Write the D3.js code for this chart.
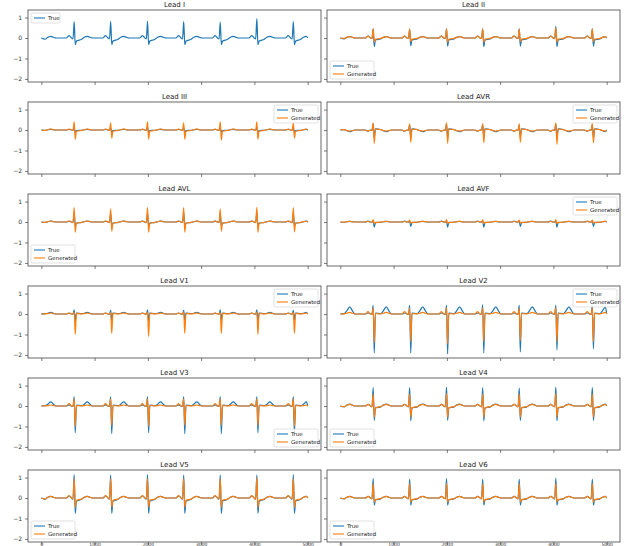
<!DOCTYPE html>
<html><head><meta charset="utf-8">
<script src="https://cdn.jsdelivr.net/npm/d3@7"></script>
<style>body{margin:0;background:#fff}svg{display:block;font-family:"DejaVu Sans",sans-serif}</style>
</head><body><svg id="c" width="624" height="546"></svg>
<script>
// ---- data ----
const leads = ["I","II","III","AVR","AVL","AVF","V1","V2","V3","V4","V5","V6"];
const legendPos = ["ul","ll","ur","ur","ll","ur","ur","ur","lr","ll","ll","ll"];
const beatSamples = [617,1302,1994,2673,3359,4046,4731];
const xTicks = [0,1000,2000,3000,4000,5000];
const yTicks = [1,0,-1,-2];
// per lead: R peak per beat
const trueR = [
 [0.80,0.82,0.82,0.80,0.78,0.95,0.80],
 [0.45,0.42,0.45,0.45,0.45,0.57,0.45],
 [0.12,0.10,0.12,0.12,0.10,0.12,0.10],
 [0.30,0.25,0.30,0.28,0.25,0.30,0.28],
 [0.45,0.42,0.45,0.45,0.42,0.48,0.45],
 [0.06,0.05,0.06,0.05,0.06,0.06,0.05],
 [0.20,0.18,0.20,0.18,0.20,0.20,0.18],
 [0.43,0.42,0.43,0.45,0.42,0.43,0.42],
 [0.45,0.45,0.45,0.45,0.45,0.45,0.45],
 [0.90,0.90,0.92,0.90,0.88,0.92,0.90],
 [1.15,1.12,1.15,1.12,1.12,1.12,1.15],
 [0.95,0.92,0.95,0.92,0.92,0.98,0.92]
];
const trueS = [
 [-0.33,-0.32,-0.32,-0.33,-0.32,-0.33,-0.32],
 [-0.42,-0.38,-0.40,-0.42,-0.40,-0.42,-0.40],
 [-0.12,-0.10,-0.12,-0.12,-0.10,-0.12,-0.10],
 [-0.40,-0.38,-0.40,-0.40,-0.38,-0.42,-0.40],
 [-0.20,-0.18,-0.20,-0.20,-0.18,-0.20,-0.20],
 [-0.25,-0.22,-0.25,-0.25,-0.22,-0.25,-0.22],
 [-0.35,-0.30,-0.35,-0.32,-0.30,-0.35,-0.30],
 [-1.90,-1.90,-1.95,-1.90,-1.85,-1.75,-1.70],
 [-1.30,-1.35,-1.30,-1.35,-1.35,-1.30,-1.30],
 [-0.70,-0.72,-0.70,-0.72,-0.70,-0.72,-0.70],
 [-0.75,-0.75,-0.75,-0.75,-0.75,-0.75,-0.75],
 [-0.35,-0.35,-0.35,-0.35,-0.35,-0.35,-0.35]
];
const trueT = [0.08,0.07,0.03,-0.08,0.05,0.03,0.08,0.35,0.20,0.10,0.08,0.08];
const trueP = [0.12,0.10,0.03,-0.06,0.04,0.04,0.05,0.05,0.06,0.08,0.10,0.08];
const trueJ = [-0.15,-0.10,-0.03,0.06,-0.05,-0.03,0.05,0.05,0.05,-0.10,-0.15,-0.10];
const genR = [
 null,
 [0.45,0.45,0.45,0.45,0.42,0.50,0.45],
 [0.40,0.35,0.40,0.35,0.40,0.40,0.35],
 [0.35,0.30,0.35,0.32,0.30,0.35,0.32],
 [0.70,0.65,0.70,0.70,0.65,0.72,0.70],
 [0.12,0.10,0.12,0.12,0.10,0.12,0.10],
 [0.10,0.08,0.10,0.10,0.08,0.10,0.08],
 [0.30,0.28,0.30,0.30,0.28,0.30,0.30],
 [0.35,0.35,0.35,0.35,0.35,0.35,0.35],
 [0.60,0.60,0.62,0.60,0.60,0.62,0.60],
 [0.95,0.95,0.95,0.95,0.95,1.00,0.95],
 [0.70,0.70,0.72,0.70,0.70,0.72,0.70]
];
const genS = [
 null,
 [-0.20,-0.18,-0.20,-0.20,-0.18,-0.20,-0.18],
 [-0.45,-0.40,-0.45,-0.45,-0.50,-0.45,-0.40],
 [-0.65,-0.60,-0.65,-0.62,-0.60,-0.70,-0.62],
 [-0.50,-0.45,-0.50,-0.50,-0.45,-0.50,-0.48],
 [-0.08,-0.06,-0.08,-0.08,-0.06,-0.08,-0.06],
 [-1.00,-0.95,-1.10,-0.95,-0.95,-1.00,-0.95],
 [-1.40,-1.35,-1.45,-1.35,-1.30,-1.35,-1.35],
 [-1.00,-0.95,-1.00,-0.95,-0.95,-0.95,-1.00],
 [-0.55,-0.55,-0.55,-0.55,-0.55,-0.55,-0.55],
 [-0.45,-0.45,-0.45,-0.45,-0.45,-0.45,-0.45],
 [-0.20,-0.20,-0.20,-0.20,-0.20,-0.20,-0.20]
];
const genT = [0,0.07,0.05,-0.05,0.05,0.03,0.05,0.08,0.05,0.08,0.08,0.08];
const genP = [0,0.10,0.05,-0.05,0.05,0.03,0.05,0.12,0.12,0.08,0.12,0.08];
const genJ = [0,-0.05,-0.05,0.05,-0.05,-0.02,0.03,0.02,0.02,-0.08,-0.12,-0.08];

// ---- rendering ----
const svg = d3.select("#c");
const rowTop = [10,102,194,286,378,470];
const panelH = 72;
const colX = [28,327], panelW = 293;
const blue = "#1f77b4", orange = "#ff7f0e";
const rr = beatSamples[1]-beatSamples[0];

// beat shape offsets (samples relative to R) - drawing geometry
function beatPoints(c, r, s, t, p, j){
  return [[c-150,0],[c-95,p],[c-50,0],[c-22,-0.05*Math.abs(r)],[c,r],[c+20,s],[c+42,j],
          [c+140,j*0.4],[c+190,t*0.45],[c+245,t],[c+295,t*0.45],[c+345,0]];
}
function buildSeries(R,S,T,P,J){
  let pts = [];
  pts = pts.concat(beatPoints(beatSamples[0]-rr,R[0],S[0],T,P,J));
  beatSamples.forEach((c,i)=>{ pts = pts.concat(beatPoints(c,R[i],S[i],T,P,J)); });
  pts = pts.concat(beatPoints(beatSamples[6]+rr,R[6],S[6],T,P,J));
  pts = pts.filter(d=>d[0]>=0 && d[0]<=5000);
  pts.unshift([0,0]); pts.push([5000,0]);
  return pts;
}

leads.forEach((name,k)=>{
  const row = Math.floor(k/2), col = k%2;
  const x0 = colX[col], y0 = rowTop[row];
  const x = d3.scaleLinear().domain([-250,5250]).range([x0,x0+panelW]);
  const y = d3.scaleLinear().domain([-2.15,1.37]).range([y0+panelH,y0]);
  const g = svg.append("g");
  g.append("rect").attr("x",x0).attr("y",y0).attr("width",panelW).attr("height",panelH).attr("fill","#fff");
  const line = d3.line().x(d=>x(d[0])).y(d=>y(d[1])).curve(d3.curveMonotoneX);
  const clipId = "clip"+k;
  g.append("clipPath").attr("id",clipId).append("rect").attr("x",x0).attr("y",y0).attr("width",panelW).attr("height",panelH);
  const tr = buildSeries(trueR[k],trueS[k],trueT[k],trueP[k],trueJ[k]);
  g.append("path").attr("d",line(tr)).attr("fill","none").attr("stroke",blue).attr("stroke-width",1.2).attr("clip-path",`url(#${clipId})`);
  if(genR[k]){
    const gn = buildSeries(genR[k],genS[k],genT[k],genP[k],genJ[k]);
    g.append("path").attr("d",line(gn)).attr("fill","none").attr("stroke",orange).attr("stroke-width",1.2).attr("clip-path",`url(#${clipId})`);
  }
  // axes
  const xa = d3.axisBottom(x).tickValues(xTicks).tickSize(3).tickPadding(0).tickFormat(row===5? d3.format("d"):"");
  const xg = g.append("g").attr("transform",`translate(0,${y0+panelH})`).call(xa);
  xg.selectAll("text").attr("dy","0.55em").attr("y",2);
  const ya = d3.axisLeft(y).tickValues(yTicks).tickSize(3).tickFormat(col===0? (d=>d<0?"\u2212"+(-d):d):"");
  const yg = g.append("g").attr("transform",`translate(${x0},0)`).call(ya);
  [xg,yg].forEach(a=>{
    a.select(".domain").remove();
    a.selectAll("line").attr("stroke","#444").attr("stroke-width",0.7);
    a.selectAll("text").attr("fill","#333").style("font-family","DejaVu Sans");
  });
  yg.selectAll("text").style("font-size","6px");
  xg.selectAll("text").style("font-size","4.5px");
  g.append("rect").attr("x",x0).attr("y",y0).attr("width",panelW).attr("height",panelH)
   .attr("fill","none").attr("stroke","#444").attr("stroke-width",0.8);
  g.append("text").attr("x",x0+panelW/2).attr("y",y0-3).attr("text-anchor","middle")
   .style("font-size","7px").attr("fill","#222").text("Lead "+name);
  // legend
  const items = genR[k] ? [["True",blue],["Generated",orange]] : [["True",blue]];
  const lw = genR[k]?44:29, lh = items.length*8+2;
  const pos = legendPos[k];
  const lx = pos[1]==="l" ? x0+3 : x0+panelW-3-lw;
  const ly = pos[0]==="u" ? y0+3 : y0+panelH-3-lh;
  const lg = g.append("g");
  lg.append("rect").attr("x",lx).attr("y",ly).attr("width",lw).attr("height",lh).attr("rx",1.5)
    .attr("fill","#fff").attr("fill-opacity",0.85).attr("stroke","#ccc").attr("stroke-width",0.6);
  items.forEach((it,i)=>{
    const yy = ly+5+i*8;
    lg.append("line").attr("x1",lx+3).attr("x2",lx+14).attr("y1",yy).attr("y2",yy).attr("stroke",it[1]).attr("stroke-width",1.1);
    lg.append("text").attr("x",lx+17).attr("y",yy+2).style("font-size","5.5px").attr("fill","#222").text(it[0]);
  });
});
</script></body></html>
